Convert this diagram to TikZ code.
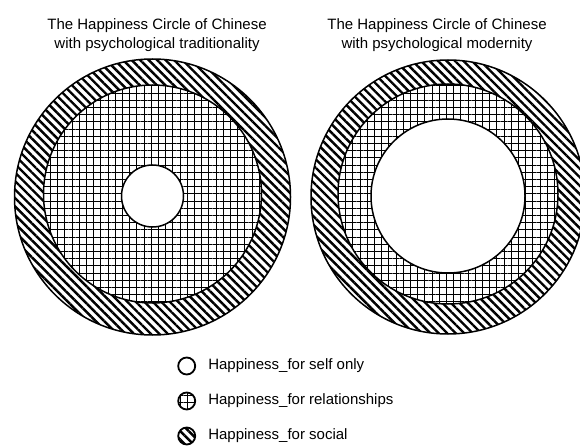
\documentclass[tikz,border=0pt]{standalone}
\usepackage{fontspec}
\setmainfont{Liberation Sans}
\usetikzlibrary{patterns.meta, positioning}
\tikzset{
  social/.style={circle, inner sep=0pt, draw=black, line width=1.5pt, preaction={fill=white},
                 pattern={Lines[angle=-45, distance=6pt, line width=2.4pt]}},
  relation/.style={circle, inner sep=0pt, draw=black, line width=1.5pt, preaction={fill=white},
                 pattern={Hatch[angle=0, distance=7.2pt, line width=1pt]}},
  selfonly/.style={circle, inner sep=0pt, draw=black, line width=1.5pt, fill=white},
  heading/.style={font=\fontsize{15}{19.5}\selectfont, align=center, inner sep=0pt},
  legtext/.style={font=\fontsize{15}{18}\selectfont, inner sep=0pt},
}

\begin{document}
\begin{tikzpicture}[x=1pt, y=1pt, node distance=12pt]
  \useasboundingbox (0,0) rectangle (580,-446);
  % two circles
  \foreach \name/\cx/\tx/\ro/\rm/\rs/\cap in {
    trad/152.5/157/138/109/31/{traditionality},
    mod/448/437/137/110/77/{modernity}}{
    \node[social, minimum size=2*\ro] (outer-\name) at (\cx,-197) {};
    \node[relation, minimum size=2*\rm] (mid-\name) at (\cx,-194) {};
    \node[selfonly, minimum size=2*\rs] (core-\name) at (\cx,-196) {};
    \node[heading, anchor=base] (title-\name) at (\tx,-49)
      {The Happiness Circle of Chinese\\with psychological \cap};
  }
  % legend
  \node[selfonly, minimum size=17pt, line width=1.8pt] (key-self) at (186.7,-366) {};
  \node[relation, minimum size=17pt, line width=1.8pt] (key-rel) at (186.7,-401) {};
  \node[social, minimum size=17pt, line width=1.8pt] (key-soc) at (186.7,-436) {};
  \node[legtext, right=of key-self] (lab-self) {Happiness\_for self only};
  \node[legtext, right=of key-rel] (lab-rel) {Happiness\_for relationships};
  \node[legtext, right=of key-soc] (lab-soc) {Happiness\_for social};
\end{tikzpicture}
\end{document}
